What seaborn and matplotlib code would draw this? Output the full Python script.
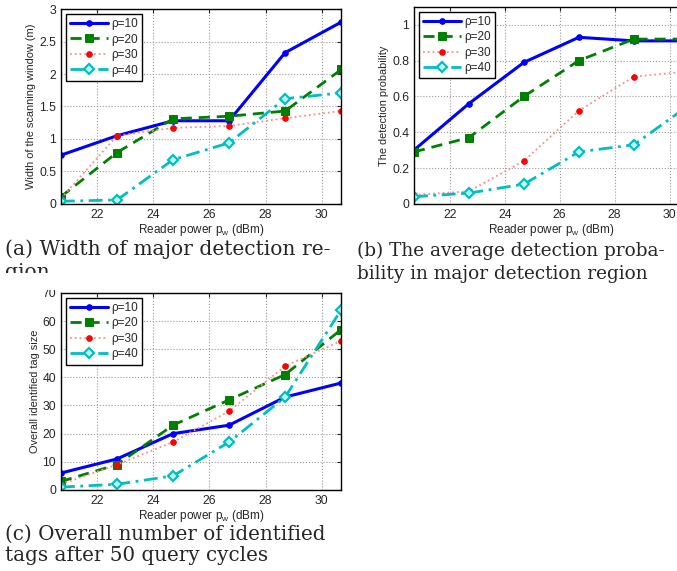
import matplotlib
matplotlib.use("Agg")
import matplotlib.pyplot as plt
import seaborn as sns
import pandas as pd
import numpy as np
from matplotlib.patches import Rectangle
from matplotlib.ticker import FuncFormatter

# reader power (dBm)
power = [20.7, 22.7, 24.7, 26.7, 28.7, 30.7]
labels = ["ρ=10", "ρ=20", "ρ=30", "ρ=40"]

# (a) width of the scanning window (m)
width_r10 = [0.75, 1.05, 1.28, 1.28, 2.33, 2.80]
width_r20 = [0.11, 0.79, 1.31, 1.35, 1.43, 2.07]
width_r30 = [0.08, 1.05, 1.17, 1.20, 1.32, 1.43]
width_r40 = [0.04, 0.06, 0.68, 0.94, 1.62, 1.71]

# (b) detection probability
prob_r10 = [0.30, 0.56, 0.79, 0.93, 0.91, 0.91]
prob_r20 = [0.29, 0.37, 0.60, 0.80, 0.92, 0.92]
prob_r30 = [0.05, 0.07, 0.24, 0.52, 0.71, 0.74]
prob_r40 = [0.04, 0.06, 0.11, 0.29, 0.33, 0.55]

# (c) overall identified tag size
tags_r10 = [6, 11, 20, 23, 33, 38]
tags_r20 = [3, 9, 23, 32, 41, 57]
tags_r30 = [2, 9, 17, 28, 44, 53]
tags_r40 = [1, 2, 5, 17, 33, 64]

# matlab-like styles per series
styles = [
    dict(color=(0, 0, 1), linestyle="-", linewidth=2.2, marker="o", markersize=4,
         markerfacecolor=(0, 0, 1), markeredgecolor=(0, 0, 1)),
    dict(color=(0, 0.5, 0), linestyle=(0, (4, 2.5)), linewidth=2.0, marker="s", markersize=6,
         markerfacecolor=(0, 0.5, 0), markeredgecolor=(0, 0.5, 0)),
    dict(color=(1, 0.55, 0.55), linestyle=":", linewidth=1.3, marker="o", markersize=4,
         markerfacecolor=(1, 0, 0), markeredgecolor=(1, 0, 0)),
    dict(color=(0, 0.75, 0.75), linestyle=(0, (5, 2, 1, 2)), linewidth=2.0, marker="D", markersize=5.5,
         markerfacecolor=(0.75, 1, 1), markeredgecolor=(0, 0.75, 0.75), markeredgewidth=1.6),
]

sns.set_style("white")
plt.rcParams["font.family"] = ["Liberation Sans", "DejaVu Sans"]
plt.rcParams["mathtext.fontset"] = "custom"
plt.rcParams["mathtext.rm"] = "Liberation Sans"
plt.rcParams["mathtext.it"] = "Liberation Sans"

fig = plt.figure(figsize=(6.77, 5.71), dpi=100)


def panel(rect, series, ylim, yticks, ylabel):
    ax = fig.add_axes(rect)
    for name, vals, st in zip(labels, series, styles):
        df = pd.DataFrame({"x": power, "y": vals})
        st = dict(st)
        ls = st.pop("linestyle")
        line = sns.lineplot(data=df, x="x", y="y", ax=ax, label=name, **st)
        line.get_lines()[-1].set_linestyle(ls)
    ax.set_xlim(20.7, 30.7)
    ax.set_ylim(*ylim)
    ax.set_xticks([22, 24, 26, 28, 30])
    ax.set_yticks(yticks)
    ax.yaxis.set_major_formatter(FuncFormatter(lambda v, p: f"{v:g}"))
    ax.grid(True, linestyle=":", color="0.6", linewidth=0.8)
    ax.tick_params(direction="in", top=True, right=True, labelsize=8.8, length=3, width=0.8)
    for sp in ax.spines.values():
        sp.set_color("black")
        sp.set_linewidth(1.0)
    ax.set_xlabel(r"Reader power p$_\mathregular{w}$ (dBm)", fontsize=8.5, labelpad=1)
    ax.set_ylabel(ylabel, fontsize=7.9, labelpad=2)
    leg = ax.legend(loc="upper left", fontsize=8.5, frameon=True, fancybox=False,
                    edgecolor="black", handlelength=3.2, borderpad=0.35,
                    labelspacing=0.3, handletextpad=0.3, borderaxespad=0.4)
    leg.get_frame().set_linewidth(1.0)
    leg.get_frame().set_alpha(1)
    return ax


panel([0.090, 0.643, 0.414, 0.341],
      [width_r10, width_r20, width_r30, width_r40],
      (0, 3), [0, 0.5, 1, 1.5, 2, 2.5, 3], "Width of the scanning window (m)")
panel([0.6115, 0.643, 0.406, 0.345],
      [prob_r10, prob_r20, prob_r30, prob_r40],
      (0, 1.1), [0, 0.2, 0.4, 0.6, 0.8, 1], "The detection probability")
panel([0.090, 0.142, 0.414, 0.345],
      [tags_r10, tags_r20, tags_r30, tags_r40],
      (0, 70), [0, 10, 20, 30, 40, 50, 60, 70], "Overall identified tag size")

cap = dict(family=["DejaVu Serif"], va="baseline")
fig.text(5 / 677, 1 - 255 / 571, "(a) Width of major detection re-", fontsize=14.6, **cap)
fig.text(5 / 677, 1 - 278 / 571, "gion", fontsize=14.6, **cap)
fig.text(357 / 677, 1 - 256 / 571, "(b) The average detection proba-", fontsize=13.3, **cap)
fig.text(357 / 677, 1 - 279 / 571, "bility in major detection region", fontsize=13.3, **cap)
fig.text(5 / 677, 1 - 540 / 571, "(c) Overall number of identified", fontsize=14.3, **cap)
fig.text(5 / 677, 1 - 561 / 571, "tags after 50 query cycles", fontsize=14.3, **cap)

# the second caption line of (a) is clipped in the original
fig.patches.append(Rectangle((0, 1 - 290 / 571), 345 / 677, 17 / 571,
                             transform=fig.transFigure, facecolor="white",
                             edgecolor="none", zorder=10))

fig.savefig("out.png", dpi=100, facecolor="white")
